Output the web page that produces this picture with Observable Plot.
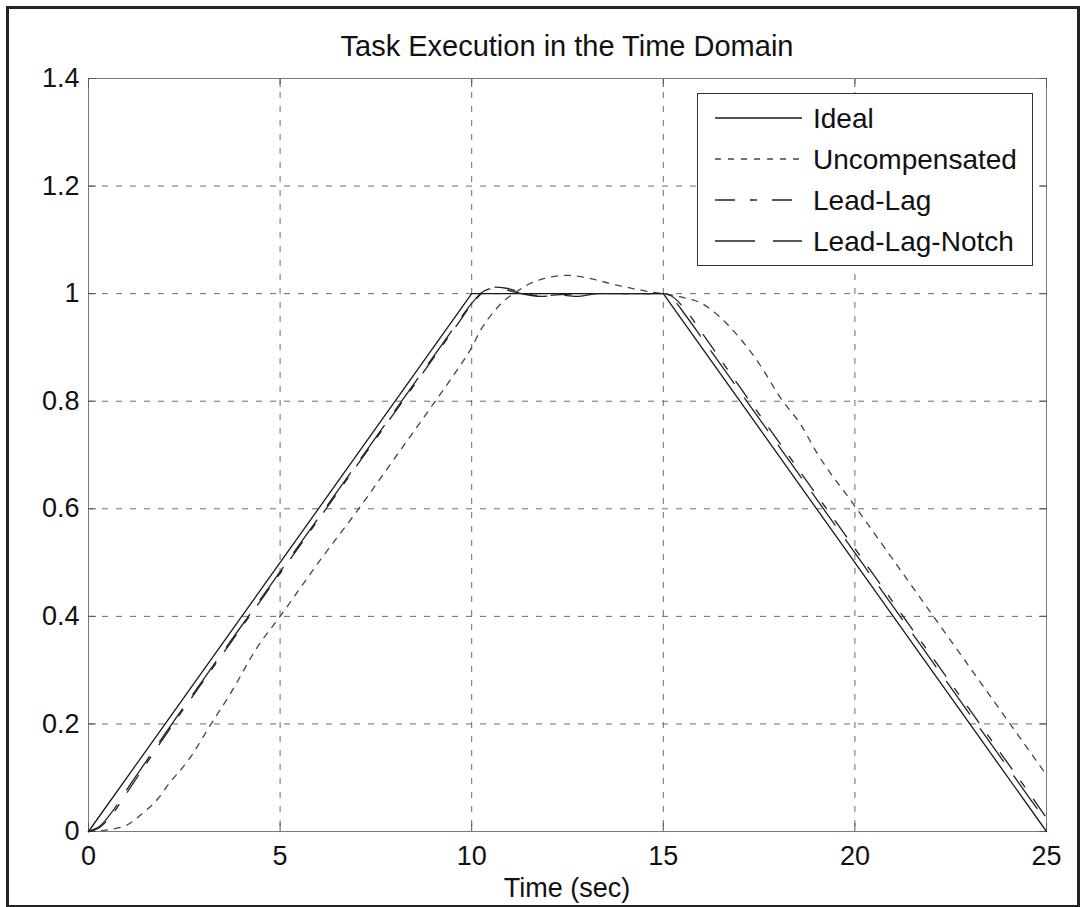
<!DOCTYPE html>
<html>
<head>
<meta charset="utf-8">
<script src="https://cdn.jsdelivr.net/npm/d3@7"></script>
<script src="https://cdn.jsdelivr.net/npm/@observablehq/plot@0.6"></script>
<style>
  html, body { margin: 0; padding: 0; background: #fff; }
  #wrap { position: relative; width: 1086px; height: 907px; overflow: hidden; background: #fff;
          font-family: "Liberation Sans", Arial, Helvetica, sans-serif; color: #111; }
  #border { position: absolute; left: 6px; top: 6px; width: 1074px; height: 901px;
            box-sizing: border-box; border: 3px solid #222; border-bottom-width: 2px; pointer-events: none; }
  .lbl { position: absolute; white-space: nowrap; transform: translate(-50%, -50%); line-height: 1; }
  #legend { position: absolute; left: 697px; top: 93px; }
  #chart { position: absolute; left: 0; top: 0; }
</style>
</head>
<body>
<div id="wrap">
  <div id="chart"></div>
  <div id="legend"></div>
  <div class="lbl" id="title" style="left:567px; top:46px; font-size:29px;">Task Execution in the Time Domain</div>
  <div class="lbl" id="xlabel" style="left:567px; top:888px; font-size:27px;">Time (sec)</div>
  <div id="border"></div>
</div>
<script>
// Axis ticks
const xTicks = [0, 5, 10, 15, 20, 25];
const xTickLabels = ["0", "5", "10", "15", "20", "25"];
const yTicks = [0, 0.2, 0.4, 0.6, 0.8, 1, 1.2, 1.4];
const yTickLabels = ["0", "0.2", "0.4", "0.6", "0.8", "1", "1.2", "1.4"];

// Series names
const seriesNames = ["Ideal", "Uncompensated", "Lead-Lag", "Lead-Lag-Notch"];

// Ideal trapezoidal trajectory
const idealT = [0, 10, 15, 25];
const idealV = [0, 1, 1, 0];

// Uncompensated response
const uncompT = [0, 0.5, 0.8, 1.0, 1.4, 1.8, 2.1, 2.6, 3.2, 3.7, 4.4, 5.0, 6.0, 7.05, 8.05, 9.05, 9.6, 10.0, 10.23, 10.45, 10.9, 11.1, 11.5, 12.0, 12.5, 13.1, 13.6, 14.1, 14.6, 15.0, 15.5, 16.0, 16.5, 17.0, 17.5, 18.05, 18.6, 19.0, 20, 21, 22, 23, 24, 25];
const uncompV = [0, 0.003, 0.007, 0.012, 0.033, 0.06, 0.089, 0.132, 0.2, 0.256, 0.342, 0.4, 0.5, 0.6, 0.7, 0.8, 0.856, 0.9, 0.932, 0.955, 0.99, 1.0, 1.018, 1.03, 1.034, 1.028, 1.019, 1.011, 1.004, 1.0, 0.993, 0.982, 0.955, 0.917, 0.87, 0.807, 0.755, 0.705, 0.605, 0.505, 0.405, 0.305, 0.205, 0.105];

// Lead-lag compensated response
const leadLagT = [0, 0.3, 0.6, 1.0, 1.5, 2, 3, 4, 5, 6, 7, 8, 9, 9.6, 10.0, 10.3, 10.6, 10.9, 11.3, 11.8, 12.3, 13, 15, 15.2, 15.6, 16, 17, 18, 19, 20, 21, 22, 23, 24, 24.6, 25];
const leadLagV = [0, 0.008, 0.03, 0.072, 0.125, 0.178, 0.28, 0.38, 0.48, 0.58, 0.68, 0.78, 0.88, 0.94, 0.98, 1.003, 1.012, 1.01, 1.003, 0.996, 0.998, 1.0, 1.0, 0.996, 0.968, 0.928, 0.826, 0.726, 0.626, 0.526, 0.426, 0.326, 0.226, 0.126, 0.066, 0.025];

// Lead-lag-notch compensated response
const notchT = [0, 0.3, 0.6, 1.0, 1.5, 2, 3, 4, 5, 6, 7, 8, 9, 9.6, 10.0, 10.3, 10.6, 10.9, 11.3, 11.8, 12.3, 12.8, 13.3, 15, 15.2, 15.6, 16, 17, 18, 19, 20, 21, 22, 23, 24, 24.6, 25];
const notchV = [0, 0.01, 0.035, 0.078, 0.13, 0.182, 0.283, 0.383, 0.483, 0.583, 0.683, 0.783, 0.883, 0.943, 0.982, 1.004, 1.01, 1.007, 1.0, 0.995, 0.997, 0.995, 1.0, 1.0, 0.993, 0.958, 0.918, 0.818, 0.718, 0.618, 0.518, 0.418, 0.318, 0.218, 0.118, 0.058, 0.018];

// Line styles per series
const seriesDash = [null, "6,7", "20,15,7,15", "40,18"];
const seriesStroke = ["#1a1a1a", "#444", "#222", "#222"];
const seriesCurve = ["linear", "monotone-x", "monotone-x", "monotone-x"];

const seriesData = [
  d3.zip(idealT, idealV),
  d3.zip(uncompT, uncompV),
  d3.zip(leadLagT, leadLagV),
  d3.zip(notchT, notchV)
].map((pts, i) => pts.map(([t, v]) => ({series: seriesNames[i], t, v})));

const xLab = new Map(xTicks.map((d, i) => [d, xTickLabels[i]]));
const yLab = new Map(yTicks.map((d, i) => [d, yTickLabels[i]]));
const tickFont = 27;
const legendFont = 28;
const gridStyle = {stroke: "#6a6a6a", strokeOpacity: 1, strokeWidth: 1, strokeDasharray: "6,8"};

const chart = Plot.plot({
  width: 1086,
  height: 907,
  marginLeft: 88,
  marginRight: 40,
  marginTop: 78,
  marginBottom: 76,
  style: {fontFamily: "'Liberation Sans', Arial, Helvetica, sans-serif", fontSize: tickFont + "px", color: "#111", background: "transparent"},
  x: {domain: [0, 25]},
  y: {domain: [0, 1.4]},
  marks: [
    Plot.gridX(xTicks, gridStyle),
    Plot.gridY(yTicks, gridStyle),
    Plot.frame({stroke: "#7a7a7a", strokeWidth: 1}),
    // inward tick marks on all four sides
    Plot.axisX(xTicks, {anchor: "bottom", tickSize: -8, tickFormat: () => "", label: null, stroke: "#555"}),
    Plot.axisX(xTicks, {anchor: "top", tickSize: -8, tickFormat: () => "", label: null, stroke: "#555"}),
    Plot.axisY(yTicks, {anchor: "left", tickSize: -8, tickFormat: () => "", label: null, stroke: "#555"}),
    Plot.axisY(yTicks, {anchor: "right", tickSize: -8, tickFormat: () => "", label: null, stroke: "#555"}),
    // tick labels
    Plot.axisX(xTicks, {anchor: "bottom", tickSize: 0, tickPadding: 14, tickFormat: d => xLab.get(d), label: null, fontSize: tickFont, fill: "#111"}),
    Plot.axisY(yTicks, {anchor: "left", tickSize: 0, tickPadding: 9, tickFormat: d => yLab.get(d), label: null, fontSize: tickFont, fill: "#111"}),
    ...seriesData.map((rows, i) => Plot.line(rows, {
      x: "t", y: "v",
      stroke: seriesStroke[i],
      strokeWidth: 1.3,
      strokeDasharray: seriesDash[i] ?? undefined,
      curve: seriesCurve[i]
    }))
  ]
});
document.getElementById("chart").appendChild(chart);

// Legend box
const lw = 336, lh = 173;
const legend = d3.select("#legend").append("svg")
  .attr("width", lw).attr("height", lh)
  .style("display", "block");
legend.append("rect")
  .attr("x", 0.5).attr("y", 0.5).attr("width", lw - 1).attr("height", lh - 1)
  .attr("fill", "#fff").attr("stroke", "#333").attr("stroke-width", 1);
const rowY = [25, 66, 107, 148];
seriesNames.forEach((name, i) => {
  const g = legend.append("g").attr("transform", `translate(0,${rowY[i]})`);
  g.append("line")
    .attr("x1", 18).attr("x2", 105).attr("y1", 0).attr("y2", 0)
    .attr("stroke", seriesStroke[i]).attr("stroke-width", 1.3)
    .attr("stroke-dasharray", seriesDash[i]);
  g.append("text")
    .attr("x", 116).attr("y", 0).attr("dy", "0.35em")
    .attr("font-family", "'Liberation Sans', Arial, Helvetica, sans-serif")
    .attr("font-size", legendFont).attr("fill", "#111")
    .text(name);
});
</script>
</body>
</html>
